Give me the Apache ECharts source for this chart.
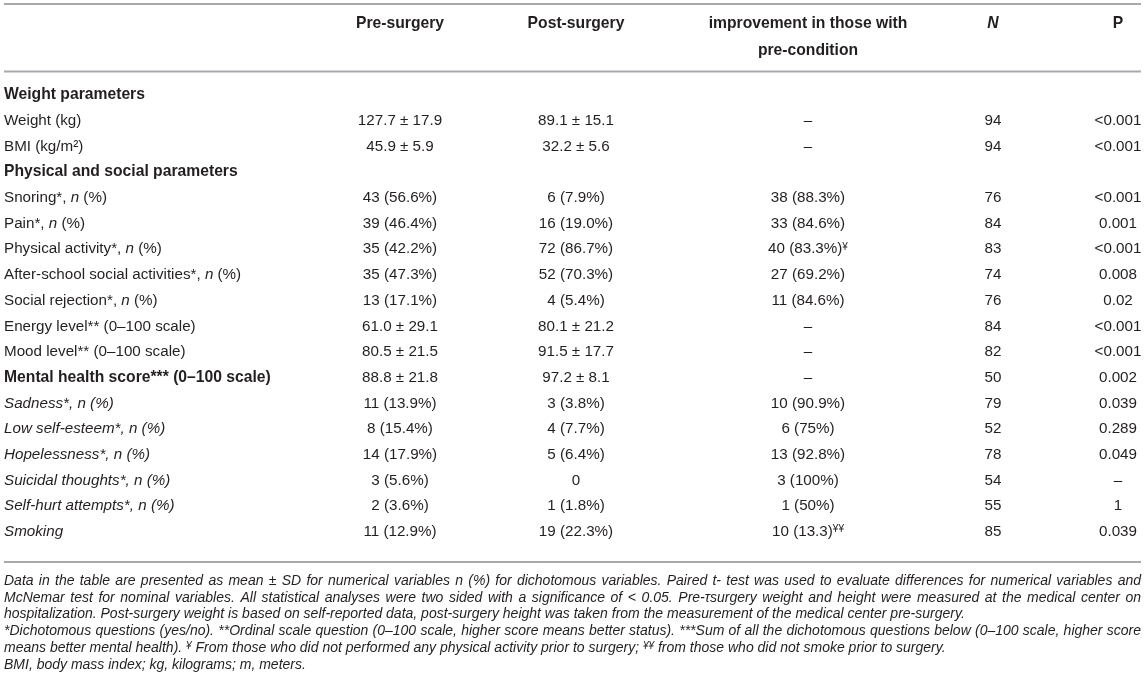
<!DOCTYPE html>
<html><head><meta charset="utf-8">
<script src="https://cdn.jsdelivr.net/npm/echarts@6/dist/echarts.min.js"></script>
<style>html,body{margin:0;padding:0;background:#fff}#c{width:1145px;height:694px}</style>
</head><body><div id="c"></div>
<script>
// ---------- DATA ----------
const headerLine1 = ['', 'Pre-surgery', 'Post-surgery', 'improvement in those with', 'N', 'P'];
const headerLine2 = ['', '', '', 'pre-condition', '', ''];

const rowLabels = [
  'Weight parameters',
  'Weight (kg)',
  'BMI (kg/m²)',
  'Physical and social parameters',
  'Snoring*, n (%)',
  'Pain*, n (%)',
  'Physical activity*, n (%)',
  'After-school social activities*, n (%)',
  'Social rejection*, n (%)',
  'Energy level** (0–100 scale)',
  'Mood level** (0–100 scale)',
  'Mental health score*** (0–100 scale)',
  'Sadness*, n (%)',
  'Low self-esteem*, n (%)',
  'Hopelessness*, n (%)',
  'Suicidal thoughts*, n (%)',
  'Self-hurt attempts*, n (%)',
  'Smoking'
];
// row role in the table: section heading, item, summary score, sub-item of the score
const rowKinds = ['section','item','item','section','item','item','item','item','item','item','item',
  'score','sub','sub','sub','sub','sub','sub'];

const preSurgery = ['', '127.7 ± 17.9', '45.9 ± 5.9', '', '43 (56.6%)', '39 (46.4%)', '35 (42.2%)',
  '35 (47.3%)', '13 (17.1%)', '61.0 ± 29.1', '80.5 ± 21.5', '88.8 ± 21.8', '11 (13.9%)', '8 (15.4%)',
  '14 (17.9%)', '3 (5.6%)', '2 (3.6%)', '11 (12.9%)'];
const postSurgery = ['', '89.1 ± 15.1', '32.2 ± 5.6', '', '6 (7.9%)', '16 (19.0%)', '72 (86.7%)',
  '52 (70.3%)', '4 (5.4%)', '80.1 ± 21.2', '91.5 ± 17.7', '97.2 ± 8.1', '3 (3.8%)', '4 (7.7%)',
  '5 (6.4%)', '0', '1 (1.8%)', '19 (22.3%)'];
const improvement = ['', '–', '–', '', '38 (88.3%)', '33 (84.6%)', '40 (83.3%)¥', '27 (69.2%)',
  '11 (84.6%)', '–', '–', '–', '10 (90.9%)', '6 (75%)', '13 (92.8%)', '3 (100%)', '1 (50%)', '10 (13.3)¥¥'];
const nValues = ['', '94', '94', '', '76', '84', '83', '74', '76', '84', '82', '50', '79', '52', '78', '54', '55', '85'];
const pValues = ['', '<0.001', '<0.001', '', '<0.001', '0.001', '<0.001', '0.008', '0.02', '<0.001',
  '<0.001', '0.002', '0.039', '0.289', '0.049', '–', '1', '0.039'];

const footnotes = [
  'Data in the table are presented as mean ± SD for numerical variables n (%) for dichotomous variables. Paired t- test was used to evaluate differences for numerical variables and',
  'McNemar test for nominal variables. All statistical analyses were two sided with a significance of < 0.05. Pre-τsurgery weight and height were measured at the medical center on',
  'hospitalization. Post-surgery weight is based on self-reported data, post-surgery height was taken from the measurement of the medical center pre-surgery.',
  '*Dichotomous questions (yes/no). **Ordinal scale question (0–100 scale, higher score means better status). ***Sum of all the dichotomous questions below (0–100 scale, higher score',
  'means better mental health). ¥ From those who did not performed any physical activity prior to surgery; ¥¥ from those who did not smoke prior to surgery.',
  'BMI, body mass index; kg, kilograms; m, meters.'
];
const footnoteJustified = [true, true, false, true, false, false];

// ---------- LAYOUT / STYLE ----------
const W = 1145;
const FAM = '"Liberation Sans", Arial, Helvetica, sans-serif';
const INK = '#231f20';
const RULE = '#a7a9ac';
const BODY = 15.2, BOLD = 15.7;
const NOTE = 14;
const colAnchor = [4, 400, 576, 808, 993, 1118];
const colAlign = ['left', 'center', 'center', 'center', 'center', 'center'];
const headerY = [24, 51];
const rules = [4, 71.5, 562];
const noteTop = 581, noteStep = 16.8;
const bodyTop = 82.2, bodyRowH = 25.7;

function f(size, weight, italic) {
  return (italic ? 'italic ' : '') + (weight || 'normal') + ' ' + size + 'px ' + FAM;
}
function sizeFor(weight) { return weight === 'bold' ? BOLD : BODY; }
function richFor(size, weight, italic) {
  return {
    b: { font: f(size, weight, italic), fill: INK },
    i: { font: f(size, weight, true), fill: INK },
    sup: { font: f(Math.round(size * 0.68), weight, italic), fill: INK, verticalAlign: 'top' }
  };
}
function esc(s) { return s.replace(/[{}|]/g, ''); }
// turn plain cell text into rich markup (italic n, raised ¥)
function markup(s, italicBase) {
  let out = '';
  const parts = s.split(/(¥+)/);
  parts.forEach(p => {
    if (!p) return;
    if (/^¥+$/.test(p)) { out += '{sup|' + p + '}'; return; }
    if (!italicBase && p.indexOf(', n (%)') >= 0) {
      const k = p.indexOf(', n (%)');
      out += '{b|' + esc(p.slice(0, k + 2)) + '}{i|n}{b|' + esc(p.slice(k + 3)) + '}';
    } else out += '{b|' + esc(p) + '}';
  });
  return out;
}

// ---------- CELLS ----------
const columns = [rowLabels, preSurgery, postSurgery, improvement, nValues, pValues];
const cells = [];
columns.forEach((arr, c) => arr.forEach((t, r) => { if (t !== '') cells.push({ value: [c, r], text: t }); }));

function cellStyle(c, r) {
  if (c === 0) {
    const k = rowKinds[r];
    if (k === 'section' || k === 'score') return { w: 'bold', it: false };
    if (k === 'sub') return { w: 'normal', it: true };
  }
  return { w: 'normal', it: false };
}

// ---------- GRAPHICS (header, rules, footnotes) ----------
const graphics = [];
rules.forEach(y => graphics.push({
  type: 'line', shape: { x1: 4, y1: y, x2: W - 4, y2: y },
  style: { stroke: RULE, lineWidth: 2 }, silent: true
}));
[headerLine1, headerLine2].forEach((line, li) => line.forEach((t, c) => {
  if (!t) return;
  graphics.push({
    type: 'text', x: colAnchor[c], y: headerY[li],
    style: { text: t, font: f(BOLD, 'bold', t === 'N'), fill: INK, align: colAlign[c], verticalAlign: 'middle' }
  });
}));

const mctx = document.createElement('canvas').getContext('2d');
const noteFont = f(NOTE, 'normal', true);
mctx.font = noteFont;
footnotes.forEach((line, i) => {
  const y = noteTop + i * noteStep;
  if (footnoteJustified[i]) {
    const words = line.split(' ');
    const widths = words.map(w => mctx.measureText(w).width);
    const total = widths.reduce((a, b) => a + b, 0);
    const gap = Math.max(mctx.measureText(' ').width, (W - 8 - total) / (words.length - 1));
    let x = 4;
    words.forEach((w, j) => {
      graphics.push({ type: 'text', x: x, y: y,
        style: { text: w, font: noteFont, fill: INK, align: 'left', verticalAlign: 'middle' } });
      x += widths[j] + gap;
    });
  } else {
    graphics.push({ type: 'text', x: 4, y: y,
      style: { text: markup(line, true), rich: richFor(NOTE, 'normal', true), fill: INK, align: 'left', verticalAlign: 'middle' } });
  }
});

// ---------- CHART ----------
const chart = echarts.init(document.getElementById('c'), null, { renderer: 'canvas' });
chart.setOption({
  backgroundColor: '#ffffff',
  animation: false,
  grid: { left: 0, right: 0, top: bodyTop, height: bodyRowH * rowLabels.length },
  xAxis: { type: 'value', min: 0, max: W, show: false },
  yAxis: { type: 'category', inverse: true, data: rowLabels.map((_, i) => i), show: false },
  series: [{
    type: 'custom',
    coordinateSystem: 'cartesian2d',
    encode: { x: 0, y: 1 },
    data: cells.map(d => [colAnchor[d.value[0]], d.value[1]]),
    renderItem: function (params, api) {
      const d = cells[params.dataIndex];
      const c = d.value[0], r = d.value[1];
      const p = api.coord([colAnchor[c], r]);
      const st = cellStyle(c, r);
      return {
        type: 'text', x: p[0], y: p[1],
        style: {
          text: markup(d.text, st.it), rich: richFor(sizeFor(st.w), st.w, st.it),
          fill: INK, align: colAlign[c], verticalAlign: 'middle'
        }
      };
    }
  }],
  graphic: graphics
});
</script></body></html>
